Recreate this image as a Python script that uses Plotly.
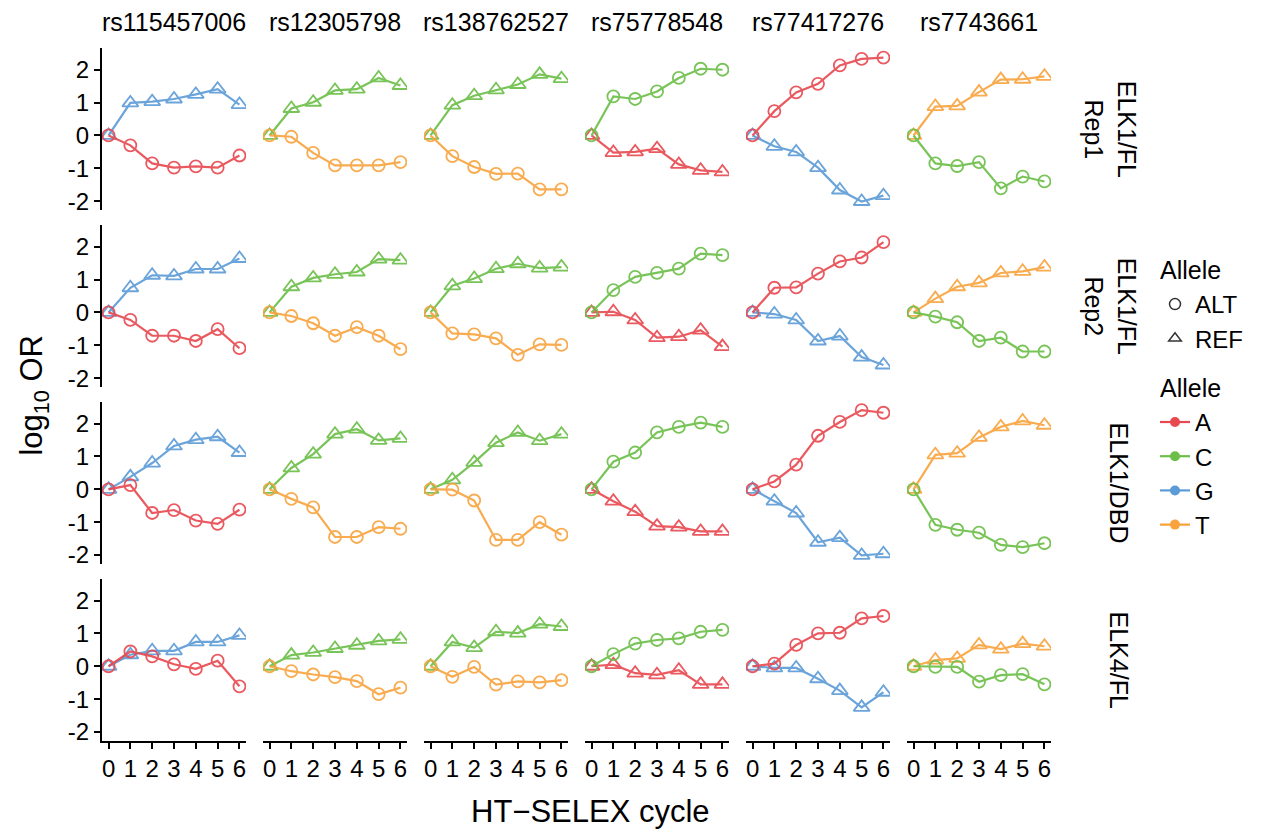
import plotly.graph_objects as go

# Cycles of HT-SELEX enrichment
cycles = [0, 1, 2, 3, 4, 5, 6]

snps = ["rs115457006", "rs12305798", "rs138762527", "rs75778548", "rs77417276", "rs7743661"]
experiments = ["ELK1/FL<br>Rep1", "ELK1/FL<br>Rep2", "ELK1/DBD", "ELK4/FL"]

# Base carried by each allele of every SNP
ref_base = ["G", "C", "C", "A", "G", "T"]
alt_base = ["A", "T", "T", "C", "A", "C"]

# log10 odds ratio per cycle: one list per SNP, one row per experiment
ref_rep1 = [
    [0, 0.99, 1.03, 1.11, 1.25, 1.41, 0.94],
    [0, 0.82, 1.01, 1.37, 1.41, 1.75, 1.52],
    [0, 0.92, 1.21, 1.39, 1.55, 1.86, 1.73],
    [0, -0.52, -0.50, -0.40, -0.88, -1.06, -1.11],
    [0, -0.33, -0.50, -0.98, -1.66, -2.01, -1.83],
    [0, 0.88, 0.90, 1.32, 1.70, 1.71, 1.80],
]
alt_rep1 = [
    [0, -0.30, -0.85, -0.98, -0.94, -0.98, -0.61],
    [0, -0.04, -0.53, -0.91, -0.91, -0.91, -0.81],
    [0, -0.63, -0.96, -1.17, -1.16, -1.64, -1.64],
    [0, 1.19, 1.11, 1.34, 1.75, 2.03, 2.00],
    [0, 0.74, 1.31, 1.57, 2.13, 2.33, 2.37],
    [0, -0.85, -0.93, -0.81, -1.61, -1.25, -1.40],
]
ref_rep2 = [
    [0, 0.75, 1.13, 1.11, 1.32, 1.32, 1.64],
    [0, 0.78, 1.05, 1.16, 1.23, 1.62, 1.59],
    [0, 0.81, 1.03, 1.33, 1.48, 1.35, 1.38],
    [0, 0.02, -0.23, -0.77, -0.74, -0.54, -1.04],
    [0, -0.05, -0.23, -0.87, -0.72, -1.36, -1.60],
    [0, 0.42, 0.78, 0.90, 1.20, 1.25, 1.38],
]
alt_rep2 = [
    [0, -0.23, -0.71, -0.71, -0.87, -0.51, -1.09],
    [0, -0.11, -0.33, -0.71, -0.45, -0.71, -1.12],
    [0, -0.64, -0.67, -0.79, -1.29, -0.97, -0.99],
    [0, 0.68, 1.08, 1.20, 1.33, 1.79, 1.74],
    [0, 0.75, 0.76, 1.18, 1.55, 1.67, 2.14],
    [0, -0.13, -0.30, -0.87, -0.77, -1.19, -1.19],
]
ref_dbd = [
    [0, 0.38, 0.80, 1.32, 1.51, 1.60, 1.12],
    [0, 0.65, 1.07, 1.68, 1.83, 1.49, 1.55],
    [0, 0.29, 0.82, 1.42, 1.73, 1.48, 1.68],
    [0, -0.36, -0.68, -1.12, -1.15, -1.28, -1.28],
    [0, -0.36, -0.72, -1.61, -1.47, -2.01, -1.96],
    [0, 1.05, 1.10, 1.58, 1.90, 2.08, 1.95],
]
alt_dbd = [
    [0, 0.13, -0.72, -0.63, -0.95, -1.05, -0.62],
    [0, -0.29, -0.55, -1.45, -1.45, -1.15, -1.20],
    [0, -0.01, -0.34, -1.54, -1.54, -1.00, -1.38],
    [0, 0.84, 1.12, 1.73, 1.90, 2.03, 1.90],
    [0, 0.24, 0.75, 1.63, 2.05, 2.41, 2.33],
    [0, -1.08, -1.23, -1.32, -1.69, -1.76, -1.64],
]
ref_elk4 = [
    [0, 0.35, 0.47, 0.47, 0.74, 0.74, 0.94],
    [0, 0.34, 0.42, 0.54, 0.64, 0.77, 0.82],
    [0, 0.74, 0.57, 1.05, 1.01, 1.28, 1.21],
    [0, 0.05, -0.21, -0.26, -0.12, -0.55, -0.55],
    [0, -0.05, -0.05, -0.38, -0.74, -1.25, -0.79],
    [0, 0.19, 0.24, 0.65, 0.52, 0.69, 0.61],
]
alt_elk4 = [
    [0, 0.45, 0.30, 0.06, -0.08, 0.17, -0.61],
    [0, -0.15, -0.25, -0.33, -0.45, -0.85, -0.65],
    [0, -0.32, -0.02, -0.56, -0.46, -0.49, -0.42],
    [0, 0.37, 0.69, 0.80, 0.85, 1.05, 1.11],
    [0, 0.08, 0.65, 1.00, 1.02, 1.46, 1.53],
    [0, -0.02, -0.02, -0.47, -0.27, -0.24, -0.55],
]

ref_values = [ref_rep1, ref_rep2, ref_dbd, ref_elk4]
alt_values = [alt_rep1, alt_rep2, alt_dbd, alt_elk4]

y_ticks = [-2, -1, 0, 1, 2]
y_tick_text = ["-2", "-1", "0", "1", "2"]
x_ticks = [0, 1, 2, 3, 4, 5, 6]

base_colors = {"A": "#E8484F", "C": "#6BBE47", "G": "#5B9BD6", "T": "#F8A33D"}

W, H = 1266, 836
FONT = "Liberation Sans, Arial, sans-serif"
TICK_SIZE = 24
STRIP_SIZE = 25
TITLE_SIZE = 31

# Panel geometry in pixels
left0, panel_w, gap_w = 102, 144, 17
top0, panel_h, gap_h = 48, 163, 15

fig = go.Figure()
layout = {}

for r in range(4):
    for c in range(6):
        k = r * 6 + c + 1
        xa = "x" if k == 1 else f"x{k}"
        ya = "y" if k == 1 else f"y{k}"
        x0 = left0 + c * (panel_w + gap_w)
        y0 = top0 + r * (panel_h + gap_h)
        show_y = c == 0
        show_x = r == 3
        layout["xaxis" if k == 1 else f"xaxis{k}"] = dict(
            domain=[x0 / W, (x0 + panel_w) / W],
            anchor=ya, range=[-0.3, 6.3],
            tickvals=x_ticks, showticklabels=show_x,
            ticks="outside" if show_x else "", ticklen=6, tickwidth=2, tickcolor="black",
            showline=show_x, linewidth=2, linecolor="black",
            showgrid=False, zeroline=False,
            tickfont=dict(size=TICK_SIZE, color="black", family=FONT),
        )
        layout["yaxis" if k == 1 else f"yaxis{k}"] = dict(
            domain=[1 - (y0 + panel_h) / H, 1 - y0 / H],
            anchor=xa, range=[-2.26, 2.67],
            tickvals=y_ticks, ticktext=y_tick_text, showticklabels=show_y,
            ticks="outside" if show_y else "", ticklen=6, tickwidth=2, tickcolor="black",
            showline=show_y, linewidth=2, linecolor="black",
            showgrid=False, zeroline=False,
            tickfont=dict(size=TICK_SIZE, color="black", family=FONT),
        )
        for vals, bases, sym, msize in (
            (ref_values, ref_base, "triangle-up-open", 14),
            (alt_values, alt_base, "circle-open", 12),
        ):
            col = base_colors[bases[c]]
            fig.add_trace(go.Scatter(
                x=cycles, y=vals[r][c], xaxis=xa, yaxis=ya,
                mode="lines+markers", showlegend=False, opacity=0.9,
                line=dict(color=col, width=2.2),
                marker=dict(symbol=sym, size=msize, color=col, line=dict(width=1.8, color=col)),
                hoverinfo="x+y",
            ))

# Legend entries: allele type (shape) and base (colour)
group_title = dict(text="Allele", font=dict(size=STRIP_SIZE, family=FONT, color="black"))
for name, sym in (("ALT", "circle-open"), ("REF", "triangle-up-open")):
    fig.add_trace(go.Scatter(
        x=[None], y=[None], mode="markers", name=name,
        legendgroup="shape", legendgrouptitle=group_title,
        marker=dict(symbol=sym, size=11, color="#333333", line=dict(width=1.5, color="#333333")),
    ))
for b in ["A", "C", "G", "T"]:
    fig.add_trace(go.Scatter(
        x=[None], y=[None], mode="lines+markers", name=b,
        legendgroup="base", legendgrouptitle=group_title,
        line=dict(color=base_colors[b], width=2.2),
        marker=dict(symbol="circle", size=10, color=base_colors[b]),
    ))

annotations = []
for c, s in enumerate(snps):
    xc = left0 + c * (panel_w + gap_w) + panel_w / 2
    annotations.append(dict(
        text=s, x=xc / W, y=1 - 22 / H, xref="paper", yref="paper",
        showarrow=False, font=dict(size=STRIP_SIZE, family=FONT, color="black"),
        xanchor="center", yanchor="middle",
    ))
for r, e in enumerate(experiments):
    yc = top0 + r * (panel_h + gap_h) + panel_h / 2
    xc = 1110 if "<br>" in e else 1119
    annotations.append(dict(
        text=e, x=xc / W, y=1 - yc / H, xref="paper", yref="paper",
        showarrow=False, textangle=90, font=dict(size=STRIP_SIZE, family=FONT, color="black"),
        xanchor="center", yanchor="middle",
    ))
annotations.append(dict(
    text="HT\u2212SELEX cycle", x=590 / W, y=1 - 816 / H, xref="paper", yref="paper",
    showarrow=False, font=dict(size=TITLE_SIZE, family=FONT, color="black"),
    xanchor="center", yanchor="middle",
))
annotations.append(dict(
    text="log<sub>10</sub> OR", x=34 / W, y=1 - 398 / H, xref="paper", yref="paper",
    showarrow=False, textangle=-90, font=dict(size=TITLE_SIZE, family=FONT, color="black"),
    xanchor="center", yanchor="middle",
))

fig.update_layout(
    **layout,
    width=W, height=H, autosize=False,
    margin=dict(l=0, r=0, t=0, b=0),
    paper_bgcolor="white", plot_bgcolor="white",
    annotations=annotations,
    legend=dict(
        x=1155 / W, y=1 - 248 / H, xanchor="left", yanchor="top",
        font=dict(size=24, family=FONT, color="black"),
        tracegroupgap=14, itemwidth=30, bgcolor="rgba(0,0,0,0)",
    ),
    font=dict(family=FONT, color="black"),
)

fig.write_html("out.html")
